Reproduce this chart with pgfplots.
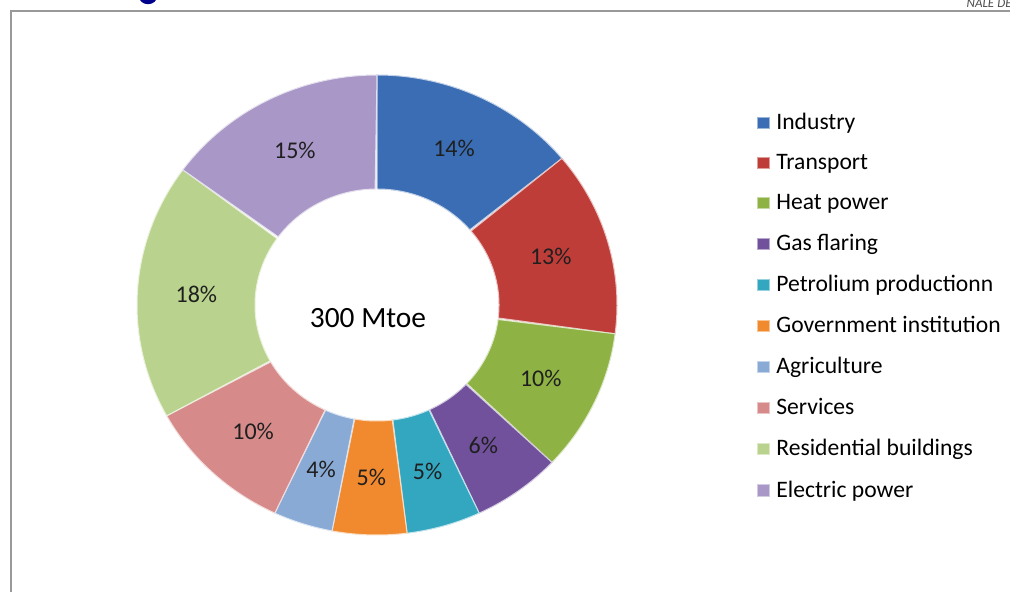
\documentclass[border=0pt]{standalone}
\usepackage{pgfplots}
\usepackage{pgfplotstable}
\pgfplotsset{compat=1.18}
\usepackage{fontspec}
\setmainfont{Carlito}
\definecolor{cInd}{HTML}{3A6DB3}
\definecolor{cTra}{HTML}{BE3D39}
\definecolor{cHea}{HTML}{8FB244}
\definecolor{cGas}{HTML}{71519C}
\definecolor{cPet}{HTML}{33A6C0}
\definecolor{cGov}{HTML}{F18A2E}
\definecolor{cAgr}{HTML}{8AAAD6}
\definecolor{cSer}{HTML}{D68B8A}
\definecolor{cRes}{HTML}{B9D28D}
\definecolor{cEle}{HTML}{A897C7}
\pgfplotstableread[col sep=comma]{
name,value,color
Industry,14,cInd
Transport,13,cTra
Heat power,10,cHea
Gas flaring,6,cGas
Petrolium productionn,5,cPet
Government institution,5,cGov
Agriculture,4,cAgr
Services,10,cSer
Residential buildings,18,cRes
Electric power,15,cEle
}\donutdata
\begin{document}
\begin{tikzpicture}
\begin{axis}[
  width=505pt, height=296pt, scale only axis,
  xmin=0, xmax=1010, ymin=0, ymax=592,
  hide axis, clip=false,
  legend cell align=left,
  legend style={draw=none, at={(rel axis cs:0.7495,0.815)}, anchor=north west,
    font=\fontsize{11.8}{13.5}\selectfont, row sep=7.9pt, inner sep=0pt,
    nodes={inner sep=1.5pt}},
]
\draw[gray!80, line width=0.8pt] (axis cs:11,0) -- (axis cs:11,581) -- (axis cs:1010,581);
\node[black!70, font=\fontsize{6.5}{6.5}\selectfont\itshape, anchor=north east, inner sep=0pt] at (axis cs:1012,593) {NALE DE};
\draw[blue!55!black, line width=2.2pt] (axis cs:141,596) arc[start angle=180, end angle=360, x radius=3.5pt, y radius=3pt];
\pgfplotstablegetrowsof{\donutdata}
\pgfmathtruncatemacro\N{\pgfplotsretval-1}
\def\cum{0}
\pgfplotsforeachungrouped \i in {0,...,\N}{%
  \pgfplotstablegetelem{\i}{value}\of\donutdata \let\v\pgfplotsretval
  \pgfplotstablegetelem{\i}{color}\of\donutdata \let\c\pgfplotsretval
  \pgfplotstablegetelem{\i}{name}\of\donutdata \let\nm\pgfplotsretval
  \pgfmathsetmacro\aone{\cum*3.6}%
  \pgfmathsetmacro\atwo{(\cum+\v)*3.6}%
  \pgfmathsetmacro\amid{(\cum+\v/2)*3.6}%
  \pgfmathsetmacro\lx{377+181*sin(\amid)}%
  \pgfmathsetmacro\ly{287+173*cos(\amid)}%
  \edef\temp{%
    \noexpand\addplot[fill=\c, draw=white!70!\c, line width=0.5pt, domain=0:2, samples=121,
      legend image code/.code={\noexpand\path[fill=\c, draw=white!50!\c, line width=0.4pt, fill opacity=1, draw opacity=1] (0.2pt,-2.8pt) rectangle (5.8pt,2.8pt);}]
      ({(x<=1.001) ? 377+240*sin(\aone+(\atwo-\aone)*x) : 377+122*sin(\atwo-(\atwo-\aone)*(x-1))},
       {(x<=1.001) ? 287+230*cos(\aone+(\atwo-\aone)*x) : 287+116*cos(\atwo-(\atwo-\aone)*(x-1))}) -- cycle;
    \noexpand\addlegendentry{\noexpand\hspace{2pt}\nm}
    \noexpand\node[font=\noexpand\fontsize{12}{14}\noexpand\selectfont, text=black!88] at (axis cs:\lx,\ly) {\v\noexpand\%};
  }%
  \temp
  \pgfmathsetmacro\cum{\cum+\v}%
}
\node[font=\fontsize{14.7}{17}\selectfont] at (axis cs:368,274) {300 Mtoe};
\end{axis}
\pgfresetboundingbox
\useasboundingbox (current axis.south west) rectangle (current axis.north east);
\end{tikzpicture}
\end{document}
